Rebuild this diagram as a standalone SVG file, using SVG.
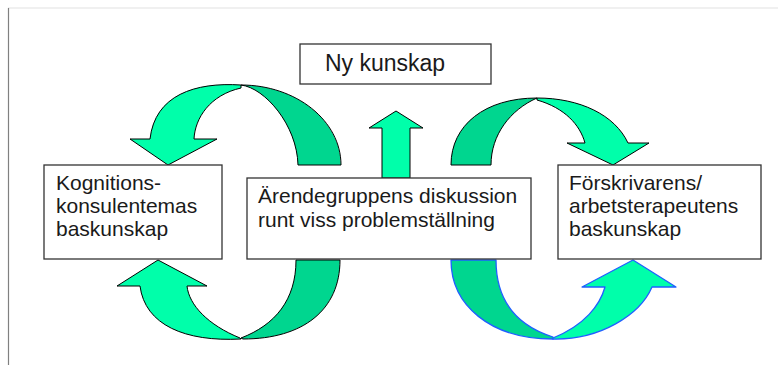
<svg xmlns="http://www.w3.org/2000/svg" width="778" height="365" viewBox="0 0 778 365">
  <style>
    .box { fill: #ffffff; stroke: #333333; stroke-width: 1.3; }
    .lbl { font-family: "Liberation Sans", Arial, sans-serif; font-size: 21px; fill: #1a1a1a; }
    .light { fill: #00FFAA; stroke: #000000; stroke-width: 1; stroke-linejoin: round; }
    .dark { fill: #00D68F; stroke: #000000; stroke-width: 1; stroke-linejoin: round; }
    .blue { stroke: #1F5FFF; stroke-width: 1.3; }
  </style>
  <rect x="0" y="0" width="778" height="365" fill="#ffffff"/>
  <line x1="8" y1="8" x2="778" y2="8" stroke="#e2e2e2" stroke-width="1.2"/>
  <line x1="8.5" y1="8" x2="8.5" y2="365" stroke="#808080" stroke-width="1.2"/>

  <g id="connectors">
    <!-- top-left curved arrow -->
    <path class="dark" d="M341,165 C341,120.8 296.2,85 241,85 C265,88 297,125 298,165 Z"/>
    <path class="light" d="M241,85 C195,82 155,95 150,139 L130,139 L168,165 L217,139 L194,139 C195,118 210,95 241,88 Z"/>
    <!-- bottom-left curved arrow -->
    <path class="dark" d="M340,260 C340,310 303,339 243,339 L241,338 C275,325 296,300 296,260 Z"/>
    <path class="light" d="M241,339 C185,342 145,325 140,286 L117,286 L158,260 L207,286 L187,286 C189,305 208,325 240,338 Z"/>
    <!-- top-right curved arrow -->
    <path class="dark" d="M451,165 C451,125 485,98 537,98 C510,110 491,135 491,165 Z"/>
    <path class="light" d="M537,98 C580,98 615,115 628,143 L649,143 L613,165 L567,143 L585,143 C580,125 565,108 537,100 Z"/>
    <!-- bottom-right curved arrow -->
    <path class="dark blue" d="M451,260 C451,305 490,339 553,339 L553,337 C515,325 496,300 496,260 Z"/>
    <path class="light blue" d="M553,339 C600,340 640,315 652,287 L676,287 L633,260 L582,287 L605,287 C600,305 585,325 553,338 Z"/>
    <!-- up arrow -->
    <path class="light" d="M382,178 L382,128 L369,128 L396,111 L423,128 L410,128 L410,178 Z"/>
  </g>

  <g id="ny-kunskap">
    <rect class="box" x="300" y="44" width="191" height="40"/>
    <text class="lbl" x="325" y="71" style="font-size:23px">Ny kunskap</text>
  </g>

  <g id="kognitionskonsulenternas">
    <rect class="box" x="44" y="165" width="178" height="94"/>
    <text class="lbl" x="56" y="190">Kognitions-</text>
    <text class="lbl" x="56" y="213">konsulentemas</text>
    <text class="lbl" x="56" y="236">baskunskap</text>
  </g>

  <g id="arendegruppen">
    <rect class="box" x="247" y="178" width="284" height="81"/>
    <text class="lbl" x="258" y="203">Ärendegruppens diskussion</text>
    <text class="lbl" x="258" y="227">runt viss problemställning</text>
  </g>

  <g id="forskrivarens">
    <rect class="box" x="558" y="165" width="203" height="94"/>
    <text class="lbl" x="569" y="190">Förskrivarens/</text>
    <text class="lbl" x="569" y="213">arbetsterapeutens</text>
    <text class="lbl" x="569" y="236">baskunskap</text>
  </g>
</svg>
